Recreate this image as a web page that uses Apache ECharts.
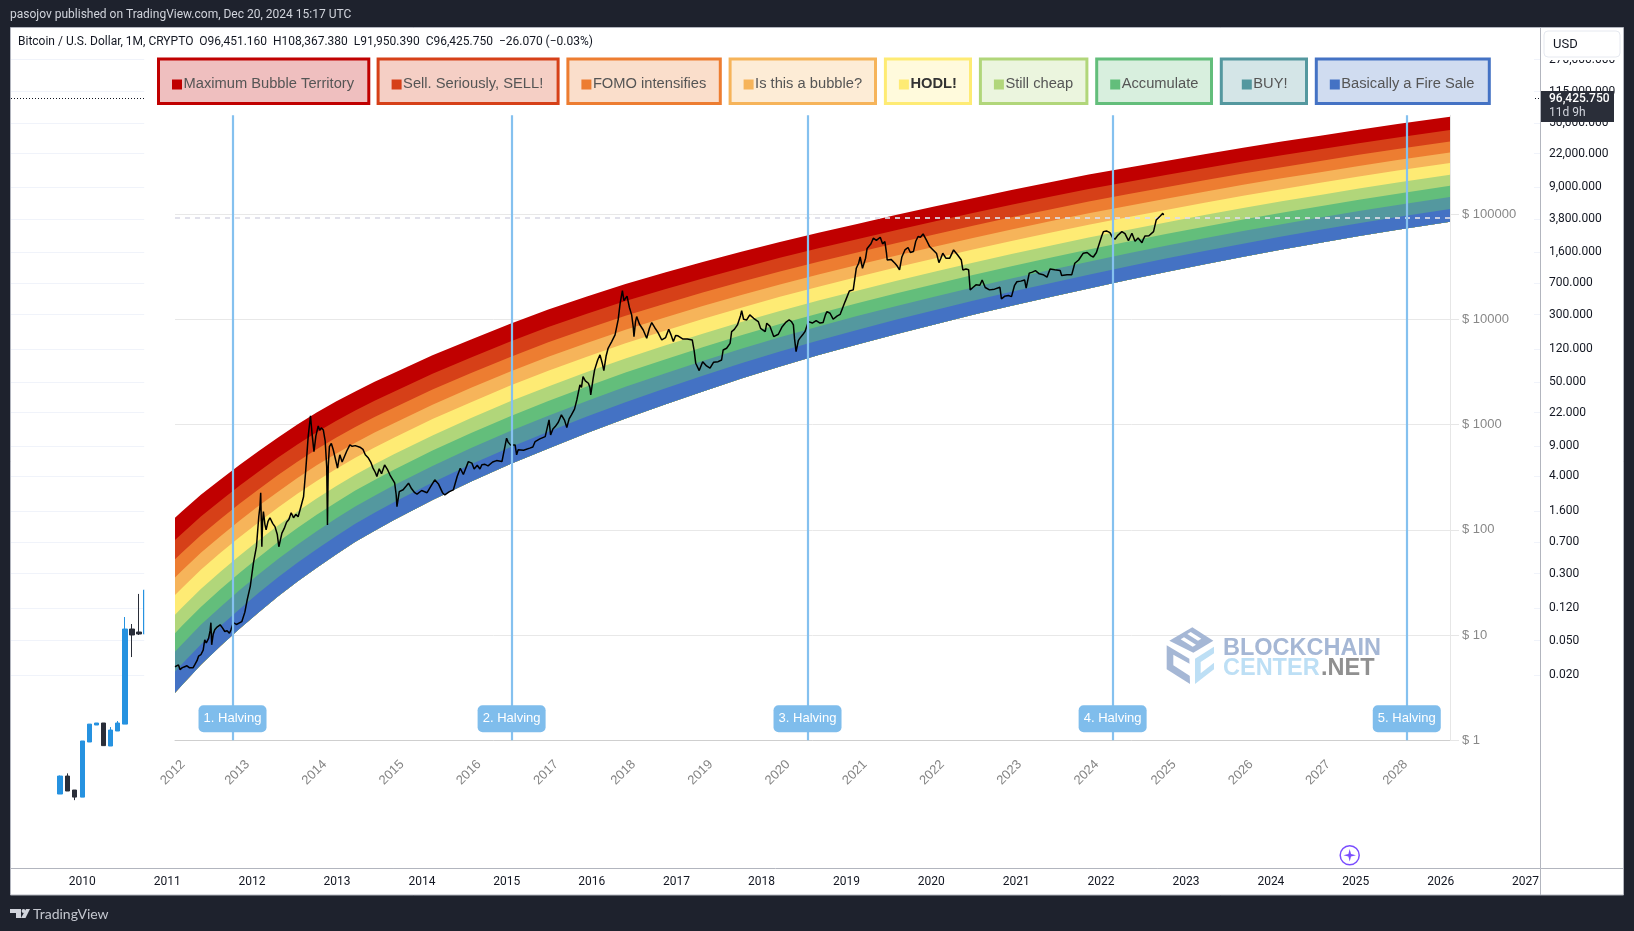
<!DOCTYPE html>
<html>
<head>
<meta charset="utf-8">
<style>html,body{margin:0;height:100%;background:#1e222d}#chart{width:1634px;height:931px}</style>
<script src="https://cdn.jsdelivr.net/npm/echarts@6/dist/echarts.min.js"></script>
</head>
<body>
<div id="chart"></div>
<script>
// rainbow band boundaries in dollars at each sample year
var bandYears = [2012.165, 2012.25, 2012.5, 2012.75, 2013, 2013.25, 2013.5, 2013.75, 2014, 2014.25, 2014.5, 2014.75, 2015, 2015.5, 2016, 2016.5, 2017, 2017.5, 2018, 2018.5, 2019, 2019.5, 2020, 2020.5, 2021, 2021.5, 2022, 2022.5, 2023, 2023.5, 2024, 2024.5, 2025, 2025.5, 2026, 2026.5, 2027, 2027.5, 2028, 2028.68];
var edge0 = [130, 148, 215, 299, 413, 561, 754, 1000, 1300, 1650, 2060, 2550, 3090, 4540, 6430, 9030, 12390, 16470, 21640, 27630, 35010, 43690, 54210, 66140, 80360, 97590, 117820, 141160, 169010, 199950, 237200, 275300, 318660, 369500, 426220, 487260, 554100, 631850, 715650, 839510];
var edge1 = [79.8, 91.3, 134, 188, 262, 358, 485, 646, 846, 1080, 1360, 1680, 2050, 3040, 4330, 6110, 8420, 11270, 14890, 19150, 24430, 30720, 38370, 47090, 57500, 70100, 84900, 102090, 122570, 145400, 172830, 201480, 234130, 272230, 314810, 360990, 411660, 470300, 533460, 627170];
var edge2 = [52.4, 60.1, 88.9, 126, 177, 243, 331, 443, 582, 748, 945, 1180, 1440, 2150, 3080, 4360, 6030, 8110, 10780, 13950, 17890, 22650, 28440, 35090, 43040, 52640, 63920, 77110, 92790, 110350, 131380, 153750, 179260, 208940, 242150, 278400, 318250, 364160, 413600, 487190];
var edge3 = [35.2, 40.5, 60.4, 86.3, 122, 169, 230, 310, 409, 528, 671, 838, 1030, 1540, 2230, 3170, 4390, 5940, 7940, 10330, 13330, 16970, 21420, 26570, 32720, 40140, 48880, 59130, 71320, 85010, 101380, 119070, 139270, 162690, 188940, 217770, 249510, 285940, 325150, 383710];
var edge4 = [24.0, 27.7, 41.6, 60.0, 85.0, 118, 163, 220, 291, 378, 483, 605, 749, 1130, 1630, 2330, 3240, 4410, 5910, 7740, 10040, 12860, 16320, 20330, 25140, 30940, 37760, 45820, 55380, 66150, 79010, 93130, 109260, 127910, 148840, 171960, 197460, 226620, 257990, 304990];
var edge5 = [15.6, 18.1, 27.4, 39.7, 56.7, 79.5, 110, 149, 198, 259, 333, 418, 521, 787, 1150, 1650, 2300, 3150, 4240, 5590, 7290, 9400, 12000, 15030, 18670, 23050, 28210, 34340, 41610, 49830, 59610, 70540, 83050, 97470, 113670, 131680, 151580, 174250, 198640, 235290];
var edge6 = [10.4, 12.1, 18.5, 27.1, 38.9, 54.9, 76.3, 104, 139, 182, 236, 297, 372, 565, 831, 1190, 1670, 2300, 3120, 4130, 5420, 7030, 9010, 11350, 14150, 17530, 21520, 26270, 31900, 38290, 45890, 54500, 64370, 75710, 88480, 102760, 118560, 136510, 155800, 184890];
var edge7 = [6.94, 8.10, 12.5, 18.4, 26.6, 37.8, 52.8, 72.1, 96.7, 128, 166, 210, 264, 404, 598, 862, 1210, 1670, 2280, 3040, 4010, 5240, 6750, 8550, 10710, 13300, 16370, 20040, 24400, 29350, 35230, 42000, 49760, 58670, 68710, 80000, 92520, 106690, 121920, 144950];
var edge8 = [4.47, 5.24, 8.14, 12.1, 17.6, 25.2, 35.4, 48.6, 65.4, 86.9, 114, 145, 183, 281, 418, 605, 854, 1190, 1630, 2180, 2900, 3810, 4940, 6280, 7910, 9860, 12160, 14950, 18240, 22000, 26450, 31660, 37640, 44490, 52220, 60970, 70690, 81660, 93440, 111310];
var edge9 = [2.83, 3.32, 5.21, 7.83, 11.5, 16.5, 23.3, 32.2, 43.5, 58.2, 76.8, 97.7, 124, 192, 288, 419, 593, 830, 1140, 1540, 2060, 2730, 3560, 4560, 5760, 7210, 8930, 11010, 13460, 16280, 19610, 23570, 28130, 33340, 39220, 45930, 53390, 61770, 70790, 84500];
var bandEdges = [edge0, edge1, edge2, edge3, edge4, edge5, edge6, edge7, edge8, edge9];
var bandColors = ['#c00000', '#d64018', '#ed7d31', '#f6b45a', '#feeb74', '#b1d67a', '#63be7b', '#54989f', '#4472c4'];
var bandLabels = ['Maximum Bubble Territory', 'Sell. Seriously, SELL!', 'FOMO intensifies', 'Is this a bubble?', 'HODL!', 'Still cheap', 'Accumulate', 'BUY!', 'Basically a Fire Sale'];

var xTickYears = [2012.165, 2013, 2014, 2015, 2016, 2017, 2018, 2019, 2020, 2021, 2022, 2023, 2024, 2025, 2026, 2027, 2028];
var halvingYears = [2012.91, 2016.525, 2020.358, 2024.31, 2028.12];
var halvingNames = ['1. Halving', '2. Halving', '3. Halving', '4. Halving', '5. Halving'];
var refPrice = 91700;

// [year, price] of the black BTC line
var btcPrice = [
  [2012.165,5.0],[2012.19,4.8],[2012.21,5.2],[2012.23,4.7],[2012.26,4.9],[2012.29,5.0],[2012.32,5.1],[2012.35,4.9],[2012.40,4.9],[2012.42,5.2],
  [2012.45,5.7],[2012.47,6.3],[2012.50,6.5],[2012.53,7.2],[2012.55,9.0],[2012.57,8.4],[2012.60,9.3],[2012.62,11.0],[2012.63,13.1],[2012.64,8.07],
  [2012.66,10.2],[2012.68,11.2],[2012.71,11.9],[2012.73,11.5],[2012.75,12.5],[2012.78,11.7],[2012.81,10.8],[2012.84,11.0],[2012.87,10.4],[2012.89,11.2],
  [2012.92,13.1],[2012.96,12.6],[2013.03,13.4],[2013.07,16.5],[2013.10,21.6],[2013.14,29],[2013.18,48],[2013.22,69],[2013.25,133],[2013.265,165],
  [2013.275,225],[2013.29,69],[2013.30,120],[2013.31,149],[2013.33,112],[2013.345,100],[2013.37,120],[2013.395,130],[2013.43,115],[2013.46,107],
  [2013.49,90],[2013.51,69],[2013.53,80],[2013.55,93],[2013.58,103],[2013.61,118],[2013.64,125],[2013.67,145],[2013.70,130],[2013.73,140],
  [2013.76,133],[2013.80,170],[2013.83,206],[2013.86,380],[2013.89,767],[2013.92,1210],[2013.94,820],[2013.965,553],[2013.99,780],[2014.02,970],
  [2014.04,880],[2014.06,930],[2014.086,888],[2014.11,700],[2014.13,400],[2014.14,111],[2014.15,400],[2014.165,617],[2014.19,660],[2014.215,575],
  [2014.24,480],[2014.27,385],[2014.285,450],[2014.30,515],[2014.33,440],[2014.355,432],[2014.39,560],[2014.43,640],[2014.46,620],[2014.50,630],
  [2014.56,608],[2014.60,580],[2014.63,515],[2014.67,480],[2014.70,440],[2014.73,385],[2014.76,350],[2014.78,320],[2014.81,380],[2014.84,340],
  [2014.88,413],[2014.92,370],[2014.95,331],[2015.01,279],[2015.03,215],[2015.04,166],[2015.07,230],[2015.12,240],[2015.16,260],[2015.19,277],
  [2015.23,245],[2015.27,225],[2015.30,218],[2015.36,236],[2015.43,225],[2015.48,260],[2015.53,298],[2015.58,270],[2015.63,225],[2015.66,214],
  [2015.72,230],[2015.77,239],[2015.82,320],[2015.86,384],[2015.90,335],[2015.965,444],[2016.01,430],[2016.04,378],[2016.08,410],[2016.115,378],
  [2016.14,415],[2016.18,418],[2016.22,405],[2016.28,440],[2016.33,454],[2016.40,444],[2016.43,575],[2016.46,741],[2016.48,680],[2016.51,640],
  [2016.57,640],[2016.59,515],[2016.61,575],[2016.68,570],[2016.76,596],[2016.80,610],[2016.83,688],[2016.89,730],[2016.96,767],[2017.01,1106],
  [2017.03,795],[2017.06,905],[2017.09,955],[2017.13,1050],[2017.17,1233],[2017.21,1100],[2017.24,935],[2017.27,1130],[2017.30,1233],[2017.34,1400],
  [2017.37,1713],[2017.41,2377],[2017.43,2250],[2017.45,2851],[2017.48,2600],[2017.52,2466],[2017.54,2250],[2017.55,1906],[2017.58,2700],[2017.60,3300],
  [2017.64,4100],[2017.67,4580],[2017.70,3800],[2017.72,3250],[2017.75,4500],[2017.775,5300],[2017.82,6100],[2017.865,7100],[2017.905,9850],[2017.93,14000],
  [2017.96,18700],[2017.98,15000],[2017.995,14700],[2018.02,16600],[2018.05,13000],[2018.08,11000],[2018.10,8500],[2018.11,6840],[2018.13,9500],[2018.145,10600],
  [2018.18,9000],[2018.23,7900],[2018.275,6600],[2018.31,8200],[2018.34,9300],[2018.38,8300],[2018.42,7500],[2018.47,6350],[2018.52,6700],[2018.56,8040],
  [2018.59,7100],[2018.62,6130],[2018.65,7000],[2018.68,6950],[2018.74,6500],[2018.80,6500],[2018.865,6350],[2018.89,5000],[2018.91,3820],[2018.955,3250],
  [2019.0,3950],[2019.05,3600],[2019.095,3430],[2019.14,3900],[2019.20,3950],[2019.245,4100],[2019.265,5100],[2019.31,5300],[2019.355,5900],[2019.375,7620],
  [2019.41,8000],[2019.45,8830],[2019.49,10800],[2019.505,12080],[2019.53,10000],[2019.57,9850],[2019.61,11000],[2019.66,10200],[2019.72,9500],[2019.75,8200],
  [2019.81,7620],[2019.83,9160],[2019.87,8600],[2019.92,6840],[2019.98,7200],[2020.03,8500],[2020.08,9400],[2020.12,9850],[2020.15,9500],[2020.175,8830],
  [2020.19,6500],[2020.21,4920],[2020.24,6300],[2020.26,6610],[2020.30,7200],[2020.325,7620],[2020.37,9490],[2020.42,9200],[2020.47,9700],[2020.52,9200],
  [2020.56,9300],[2020.59,11000],[2020.61,11800],[2020.65,11400],[2020.69,10000],[2020.74,10700],[2020.78,11100],[2020.82,13200],[2020.845,14700],[2020.90,18500],
  [2020.95,19000],[2020.99,30500],[2021.02,34000],[2021.04,39000],[2021.07,30500],[2021.11,38000],[2021.13,47000],[2021.15,49000],[2021.18,52000],[2021.21,58800],
  [2021.25,56000],[2021.30,60100],[2021.33,52000],[2021.36,54600],[2021.38,43000],[2021.39,36500],[2021.44,37000],[2021.49,34000],[2021.52,32000],[2021.55,29400],
  [2021.58,39000],[2021.62,45500],[2021.66,48000],[2021.69,43000],[2021.73,43900],[2021.76,55000],[2021.79,61000],[2021.82,60000],[2021.855,64600],[2021.90,56000],
  [2021.94,49000],[2021.985,45500],[2022.03,42000],[2022.06,34500],[2022.085,38000],[2022.11,42400],[2022.15,38000],[2022.2,38000],[2022.25,45500],[2022.30,41000],
  [2022.35,36500],[2022.37,29400],[2022.41,30000],[2022.445,29500],[2022.465,19000],[2022.50,20000],[2022.54,21200],[2022.59,21000],[2022.62,23600],[2022.66,20000],
  [2022.715,19000],[2022.78,19300],[2022.85,20100],[2022.87,15600],[2022.91,16500],[2022.96,16800],[2023.0,16400],[2023.04,21000],[2023.07,22700],[2023.12,23000],
  [2023.17,23600],[2023.19,19700],[2023.23,27400],[2023.27,28000],[2023.31,28900],[2023.36,27000],[2023.41,26500],[2023.46,25100],[2023.50,30000],[2023.56,29500],
  [2023.63,29000],[2023.65,26000],[2023.67,25100],[2023.72,26500],[2023.78,26400],[2023.82,34000],[2023.87,36500],[2023.93,42400],[2023.98,43000],[2024.03,40000],
  [2024.06,39000],[2024.10,43000],[2024.125,49000],[2024.17,62000],[2024.19,67900],[2024.23,69000],[2024.275,66400],[2024.31,59500],[2024.34,57500],[2024.38,63000],
  [2024.43,67900],[2024.47,65000],[2024.515,55800],[2024.54,61000],[2024.56,65600],[2024.60,55000],[2024.64,59000],[2024.69,53300],[2024.71,58000],[2024.73,61800],
  [2024.78,62000],[2024.84,67900],[2024.86,70000],[2024.875,87700],[2024.90,91000],[2024.93,96000],[2024.95,99000],[2024.96,101400],[2024.97,97500]
];

// TradingView chart underneath: [year, open, close, low, high]
var tvCandles = [
  [2009.74,0.000836,0.00135,0.000836,0.00137],
  [2009.825,0.00135,0.000906,0.000906,0.00145],
  [2009.91,0.00093,0.00077,0.00071,0.00093],
  [2010.0,0.00077,0.00344,0.00077,0.00344],
  [2010.083,0.00335,0.0054,0.00335,0.0054],
  [2010.167,0.00527,0.00556,0.00527,0.00556],
  [2010.25,0.00556,0.00304,0.00304,0.00556],
  [2010.333,0.00301,0.00461,0.00301,0.00499],
  [2010.417,0.00449,0.00556,0.00449,0.00586],
  [2010.5,0.0054,0.0682,0.0054,0.094],
  [2010.583,0.0682,0.0582,0.0323,0.078],
  [2010.667,0.063,0.0597,0.0582,0.174],
  [2010.75,0.0597,0.193,0.0582,0.193]
];
var tvPriceLabels = [270000, 115000, 50000, 22000, 9000, 3800, 1600, 700, 300, 120, 50, 22, 9, 4, 1.6, 0.7, 0.3, 0.12, 0.05, 0.02];
var tvYears = [2010, 2011, 2012, 2013, 2014, 2015, 2016, 2017, 2018, 2019, 2020, 2021, 2022, 2023, 2024, 2025, 2026, 2027];
var lastPrice = 96425.75;

var legendX = [157, 376.6, 566.4, 728.6, 883.9, 978.9, 1095.2, 1219.8, 1314.8];
var legendW = [213.3, 183, 155.4, 148.4, 88.1, 109.5, 117.8, 88.2, 176];

var ARIAL = '"Liberation Sans", Arial, sans-serif';
var TV_FONT = 'Roboto, sans-serif';

function log10(v) { return Math.log(v) / Math.LN10; }

function bandRender(index) {
  return function (params, api) {
    // painted down to the lower rim so neighbouring bands leave no seam
    var upper = bandEdges[index], lower = bandEdges[9], pts = [];
    for (var i = 0; i < bandYears.length; i++) pts.push(api.coord([bandYears[i], upper[i]]));
    for (var j = bandYears.length - 1; j >= 0; j--) pts.push(api.coord([bandYears[j], lower[j]]));
    return {type: 'polygon', shape: {points: pts}, style: {fill: bandColors[index]}};
  };
}

function hexAlpha(hex, a) {
  var n = parseInt(hex.slice(1), 16);
  return 'rgba(' + (n >> 16) + ',' + ((n >> 8) & 255) + ',' + (n & 255) + ',' + a + ')';
}

function legendGraphics() {
  var out = [];
  bandLabels.forEach(function (name, i) {
    var x = legendX[i], w = legendW[i], pad = name === 'BUY!' ? 22 : 15;
    out.push({type: 'rect', z: 20, shape: {x: x + 1.5, y: 59, width: w - 3, height: 44.5},
      style: {fill: hexAlpha(bandColors[i], 0.25), stroke: bandColors[i], lineWidth: 3}});
    out.push({type: 'rect', z: 21, shape: {x: x + pad, y: 79.5, width: 10, height: 10}, style: {fill: bandColors[i]}});
    out.push({type: 'text', z: 21, style: {text: name, x: x + pad + 11.5, y: 84, textVerticalAlign: 'middle',
      font: (name === 'HODL!' ? 'bold ' : '') + '14.7px ' + ARIAL, fill: name === 'HODL!' ? '#333' : '#555'}});
  });
  return out;
}

function watermark() {
  var dark = '#a5b7d5', light = '#bddff5';
  return [
    {type: 'group', z: 20, x: 1160, y: 620, scaleX: 1 / 3, scaleY: 1 / 3, children: [
      {type: 'polygon', z: 20, shape: {points: [[97, 22], [160, 62], [100, 98], [28, 62]]}, style: {fill: dark}},
      {type: 'polygon', z: 21, shape: {points: [[62, 58], [72, 52], [108, 74], [98, 80]]}, style: {fill: '#fff'}},
      {type: 'polygon', z: 21, shape: {points: [[82, 42], [92, 36], [124, 56], [114, 62]]}, style: {fill: '#fff'}},
      {type: 'polygon', z: 20, shape: {points: [[20, 76], [88, 116], [90, 192], [20, 148]]}, style: {fill: dark}},
      {type: 'polygon', z: 21, shape: {points: [[40, 104], [90, 132], [90, 168], [40, 136]]}, style: {fill: '#fff'}},
      {type: 'polygon', z: 20, shape: {points: [[105, 116], [162, 80], [162, 148], [105, 192]]}, style: {fill: light}},
      {type: 'polygon', z: 21, shape: {points: [[122, 126], [162, 100], [162, 128], [122, 160]]}, style: {fill: '#fff'}}
    ]},
    {type: 'text', z: 21, style: {text: 'BLOCKCHAIN', x: 1223, y: 649, textVerticalAlign: 'middle', font: 'bold 23.5px ' + ARIAL, fill: dark}},
    {type: 'text', z: 21, style: {text: 'CENTER', x: 1223, y: 669, textVerticalAlign: 'middle', font: 'bold 23.5px ' + ARIAL, fill: light}},
    {type: 'text', z: 21, style: {text: '.NET', x: 1321, y: 669, textVerticalAlign: 'middle', font: 'bold 23.5px ' + ARIAL, fill: '#909090'}}
  ];
}

function frameGraphics() {
  return [
    // white chart panel
    {type: 'rect', z: -1, shape: {x: 10.5, y: 27.5, width: 1613, height: 867.5}, style: {fill: '#fff', stroke: '#b2b5be', lineWidth: 1}},
    // pasted rainbow picture hides the TradingView grid
    {type: 'rect', z: 2, shape: {x: 144.2, y: 28.5, width: 1389.8, height: 839}, style: {fill: '#fff'}},
    {type: 'line', z: 2, shape: {x1: 1540.5, y1: 868.5, x2: 1623, y2: 868.5}, style: {stroke: '#b2b5be', lineWidth: 1}},
    {type: 'line', z: 2, shape: {x1: 1540.5, y1: 868.5, x2: 1540.5, y2: 895}, style: {stroke: '#b2b5be', lineWidth: 1}},
    {type: 'text', style: {text: 'pasojov published on TradingView.com, Dec 20, 2024 15:17 UTC', x: 10, y: 15, textVerticalAlign: 'middle', font: '12px ' + TV_FONT, fill: '#d1d4dc'}},
    {type: 'text', z: 22, style: {text: 'Bitcoin / U.S. Dollar, 1M, CRYPTO  O96,451.160  H108,367.380  L91,950.390  C96,425.750  \u221226.070 (\u22120.03%)', x: 18, y: 42, textVerticalAlign: 'middle', font: '12px ' + TV_FONT, fill: '#131722'}},
    // USD button and the fade under it that cuts the top tick label
    {type: 'rect', z: 22, shape: {x: 1541.5, y: 28.5, width: 81.5, height: 31.5}, style: {fill: '#fff'}},
    {type: 'rect', z: 22, shape: {x: 1544, y: 31, width: 76, height: 26, r: 4}, style: {fill: '#fff', stroke: '#e6e9f0', lineWidth: 1}},
    {type: 'text', z: 23, style: {text: 'USD', x: 1553, y: 44.5, textVerticalAlign: 'middle', font: '13px ' + TV_FONT, fill: '#131722'}},
    // last price tag
    {type: 'rect', z: 22, shape: {x: 1541, y: 91, width: 73, height: 31}, style: {fill: '#2a2e39'}},
    {type: 'text', z: 23, style: {text: lastPrice.toLocaleString('en-US', {minimumFractionDigits: 3}), x: 1549, y: 99, textVerticalAlign: 'middle', font: '500 12px ' + TV_FONT, fill: '#fff'}},
    {type: 'text', z: 23, style: {text: '11d 9h', x: 1549, y: 113, textVerticalAlign: 'middle', font: '12px ' + TV_FONT, fill: '#d1d4dc'}},
    // assistant badge
    {type: 'circle', z: 22, shape: {cx: 1349.7, cy: 855.3, r: 9.5}, style: {fill: '#fff', stroke: '#7a4dff', lineWidth: 1.5}},
    {type: 'polygon', z: 23, shape: {points: [[1349.7, 849], [1351, 854], [1356, 855.3], [1351, 856.6], [1349.7, 861.6], [1348.4, 856.6], [1343.4, 855.3], [1348.4, 854]]}, style: {fill: '#7a4dff'}},
    // TradingView logo
    {type: 'polygon', z: 1, shape: {points: [[10, 909], [21, 909], [21, 918], [16, 918], [16, 913], [10, 913]]}, style: {fill: '#d1d4dc'}},
    {type: 'circle', z: 1, shape: {cx: 23.5, cy: 911, r: 1.9}, style: {fill: '#d1d4dc'}},
    {type: 'polygon', z: 1, shape: {points: [[26, 909], [30, 909], [25.5, 918], [21, 918]]}, style: {fill: '#d1d4dc'}},
    {type: 'text', style: {text: 'TradingView', x: 33, y: 914, textVerticalAlign: 'middle', font: '14px Lato, sans-serif', fill: '#c4c7cf'}}
  ].concat(legendGraphics(), watermark());
}

var chart = echarts.init(document.getElementById('chart'));

var series = bandLabels.map(function (name, i) {
  return {
    name: name, type: 'custom', z: 4, silent: true, clip: false,
    xAxisIndex: 0, yAxisIndex: 0,
    data: [[bandYears[0], bandEdges[i][0]]],
    renderItem: bandRender(i)
  };
});

series.push({
  type: 'line', z: 5, silent: true, symbol: 'none', xAxisIndex: 0, yAxisIndex: 0,
  data: [[bandYears[0], refPrice], [bandYears[bandYears.length - 1], refPrice]],
  lineStyle: {color: '#dcdce8', width: 2, type: [5, 5], opacity: 0.85}
});

series.push({
  type: 'line', z: 6, silent: true, symbol: 'none', xAxisIndex: 0, yAxisIndex: 0,
  data: btcPrice,
  lineStyle: {color: '#000', width: 1.5}
});

series.push({
  type: 'line', z: 7, silent: true, symbol: 'none', xAxisIndex: 0, yAxisIndex: 0, data: [],
  markLine: {
    z: 7, silent: true, symbol: 'none', animation: false, label: {show: false},
    lineStyle: {color: '#85c1ef', width: 2.2, type: 'solid'},
    data: halvingYears.map(function (y) { return [{coord: [y, 1]}, {coord: [y, 865000]}]; })
  }
});

series.push({
  type: 'scatter', z: 8, silent: true, xAxisIndex: 0, yAxisIndex: 0,
  symbol: 'rect', symbolSize: 1,
  itemStyle: {color: 'transparent', opacity: 1},
  label: {show: true, position: 'inside', color: '#fff', fontFamily: ARIAL, fontSize: 13,
    backgroundColor: '#7fbdec', borderRadius: 5, width: 56, height: 15, align: 'center', verticalAlign: 'middle', padding: [6, 6],
    formatter: function (p) { return halvingNames[p.dataIndex]; }},
  data: halvingYears.map(function (y) { return [y, 1.6]; })
});

series.push({
  type: 'candlestick', z: 1, silent: true, xAxisIndex: 1, yAxisIndex: 1, barWidth: 5,
  itemStyle: {color: '#2692e0', borderColor: '#2692e0', color0: '#2a2e39', borderColor0: '#2a2e39', borderWidth: 1},
  data: tvCandles.map(function (c) { return [c[0], log10(c[1]), log10(c[2]), log10(c[3]), log10(c[4])]; }),
  markLine: {
    z: 1, silent: true, symbol: 'none', animation: false, label: {show: false},
    lineStyle: {color: '#131722', width: 1, type: [1, 2]},
    data: [{yAxis: log10(lastPrice)}]
  }
});

chart.setOption({
  animation: false,
  backgroundColor: '#1e222d',
  grid: [
    {left: 175, right: 184, top: 115.3, height: 625},
    {left: 11, right: 94, top: 28, height: 840}
  ],
  xAxis: [
    {
      type: 'value', gridIndex: 0, z: 3, min: bandYears[0], max: bandYears[bandYears.length - 1],
      splitLine: {show: false},
      axisTick: {show: false},
      axisLine: {onZero: false, lineStyle: {color: '#cfcfcf', width: 1}},
      axisLabel: {
        // shifted a little to the right like the picture's slanted labels
        customValues: xTickYears.map(function (y) { return y + 0.105; }),
        rotate: 45, margin: 22, color: '#858585', fontFamily: ARIAL, fontSize: 13,
        formatter: function (v) { return String(Math.floor(v)); }
      }
    },
    {
      type: 'value', gridIndex: 1, z: 0, position: 'bottom', min: 2009.16, max: 2027.17,
      splitLine: {show: false},
      axisTick: {show: false, customValues: tvYears},
      axisLine: {onZero: false, lineStyle: {color: '#b2b5be'}},
      axisLabel: {customValues: tvYears, margin: 8, color: '#131722', fontFamily: TV_FONT, fontSize: 12,
        formatter: function (v) { return String(v); }}
    }
  ],
  yAxis: [
    {
      type: 'log', gridIndex: 0, z: 3, position: 'right', min: 1, max: 865000, logBase: 10,
      axisLine: {show: true, onZero: false, lineStyle: {color: '#e6e6e6'}},
      axisTick: {show: true, length: 9, lineStyle: {color: '#e6e6e6'}},
      splitLine: {show: true, showMaxLine: false, lineStyle: {color: '#e8e8e8'}},
      minorTick: {show: false},
      axisLabel: {
        margin: 12, color: '#888', fontFamily: ARIAL, fontSize: 13, showMaxLabel: false,
        formatter: function (v) { return '$ ' + Math.round(v); }
      }
    },
    {
      type: 'value', gridIndex: 1, z: 0, position: 'right', min: -3.935, max: 5.798,
      axisLine: {show: true, onZero: false, lineStyle: {color: '#b2b5be'}},
      axisTick: {show: false, customValues: tvPriceLabels.map(log10)},
      splitLine: {show: true, lineStyle: {color: '#f0f3fa'}},
      axisLabel: {
        customValues: tvPriceLabels.map(log10),
        margin: 9, color: '#131722', fontFamily: TV_FONT, fontSize: 12,
        formatter: function (v) {
          return Math.pow(10, v).toLocaleString('en-US', {minimumFractionDigits: 3, maximumFractionDigits: 3});
        }
      }
    }
  ],
  series: series,
  graphic: {elements: frameGraphics()}
});
</script>
</body>
</html>
